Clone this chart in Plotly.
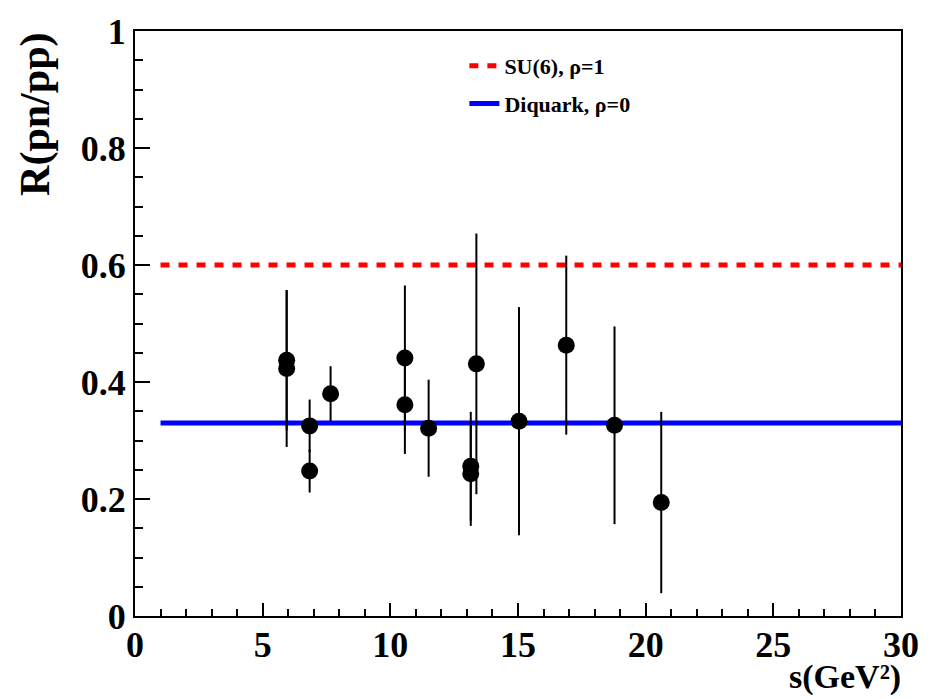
import plotly.graph_objects as go

# Data
s_vals = [5.94, 5.94, 6.84, 6.84, 7.66, 10.57, 10.57, 11.5, 13.15, 13.15, 13.37, 15.04, 16.89, 18.78, 20.61]
r_vals = [0.437, 0.423, 0.325, 0.248, 0.380, 0.441, 0.361, 0.321, 0.256, 0.243, 0.431, 0.333, 0.463, 0.326, 0.194]
r_errs = [0.120, 0.134, 0.045, 0.037, 0.047, 0.124, 0.084, 0.083, 0.093, 0.089, 0.223, 0.195, 0.153, 0.169, 0.155]

model_x = [1, 30]
su6_r = [0.6, 0.6]
diquark_r = [0.33, 0.33]

x_tickvals = [0, 5, 10, 15, 20, 25, 30]
x_ticktext = ["0", "5", "10", "15", "20", "25", "30"]
y_tickvals = [0, 0.2, 0.4, 0.6, 0.8, 1.0]
y_ticktext = ["0", "0.2", "0.4", "0.6", "0.8", "1"]

FONT = "Liberation Serif, Times New Roman, serif"

fig = go.Figure()
fig.add_trace(go.Scatter(
    x=model_x, y=su6_r, mode="lines", name="SU(6), ρ=1", legendgroup="su6",
    line=dict(color="#ff0000", width=5, dash="9px,9px"),
))
fig.add_trace(go.Scatter(
    x=model_x, y=diquark_r, mode="lines", name="Diquark, ρ=0", legendgroup="dq",
    line=dict(color="#0000ff", width=5),
))
fig.add_trace(go.Scatter(
    x=s_vals, y=r_vals, mode="markers", showlegend=False,
    marker=dict(color="black", size=17, symbol="circle"),
    error_y=dict(type="data", array=r_errs, visible=True, color="black", thickness=2, width=0),
))

fig.update_layout(
    width=931, height=699,
    margin=dict(l=135, r=28, t=27, b=83),
    paper_bgcolor="white", plot_bgcolor="white",
    font=dict(family=FONT, color="black"),
    showlegend=True,
    legend=dict(
        x=0.43, y=0.976, xanchor="left", yanchor="top",
        bgcolor="rgba(0,0,0,0)",
        font=dict(family=FONT, size=22, color="black", weight=700),
        traceorder="grouped", tracegroupgap=6,
    ),
    xaxis=dict(
        range=[0, 30], tickvals=x_tickvals, ticktext=x_ticktext,
        ticks="inside", ticklen=13, tickwidth=2, tickcolor="black",
        showline=True, linecolor="black", linewidth=2, mirror=True,
        showgrid=False, zeroline=False, ticklabelstandoff=-4,
        tickfont=dict(family=FONT, size=36, color="black", weight=700),
        minor=dict(dtick=1, ticks="inside", ticklen=7, tickwidth=2, tickcolor="black", showgrid=False),
    ),
    yaxis=dict(
        range=[0, 1], tickvals=y_tickvals, ticktext=y_ticktext,
        ticks="inside", ticklen=15, tickwidth=2, tickcolor="black",
        showline=True, linecolor="black", linewidth=2, mirror=True,
        showgrid=False, zeroline=False,
        tickfont=dict(family=FONT, size=36, color="black", weight=700),
        minor=dict(dtick=0.05, ticks="inside", ticklen=8, tickwidth=2, tickcolor="black", showgrid=False),
    ),
    annotations=[
        dict(text="R(pn/pp)", textangle=-90, xref="paper", yref="paper",
             x=-0.13, y=1.0, xanchor="center", yanchor="top", showarrow=False,
             font=dict(family=FONT, size=42, color="black", weight=700)),
        dict(text="s(GeV²)", xref="paper", yref="paper",
             x=1.003, y=-0.1409, xanchor="right", yanchor="bottom", showarrow=False,
             font=dict(family=FONT, size=34, color="black", weight=700)),
    ],
)

fig.write_html("out.html")
